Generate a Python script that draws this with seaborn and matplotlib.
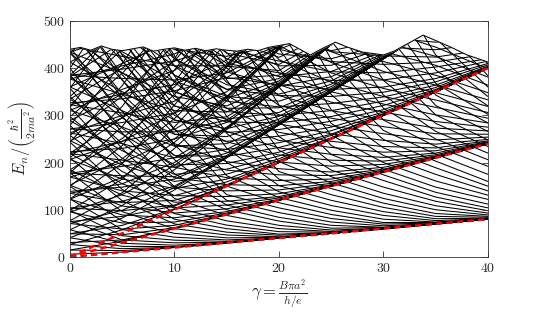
import numpy as np
import pandas as pd
import matplotlib
matplotlib.use('Agg')
import matplotlib.pyplot as plt
import seaborn as sns

nan = np.nan
gamma = [0, 5, 10, 15, 20, 25, 30, 35, 40]

# levels, one row per state, values at the gamma grid
# radial band 0, l <= 0 (rows |l| = 0, 1, 2, ...)
band0_down = [
    [5.8, 10.4, 20, 30, 40, 50, 60, 70, 80],
    [14.7, 13.5, 20.1, 30, 40, 50, 60, 70, 80],
    [26.4, 17.5, 20.6, 30, 40, 50, 60, 70, 80],
    [40.7, 22.5, 22, 30, 40, 50, 60, 70, 80],
    [57.6, 29, 25, 30.3, 40, 50, 60, 70, 80],
    [76.9, 36, 30, 31, 40, 50, 60, 70, 80],
    [98.7, 45, 35.6, 33, 40, 50, 60, 70, 80],
    [122.9, 58, 42, 36, 40.4, 50, 60, 70, 80],
    [149.8, 76, 50, 40.5, 41.6, 50, 60, 70, 80],
    [178.3, 96, 60, 46.5, 42.8, 50.2, 60, 70, 80],
    [209.7, 119, 70, 52.5, 46, 50.5, 60, 70, 80],
    [243.1, 143, 80, 60, 48.4, 51.5, 60.2, 70, 80],
    [278.9, 169.5, 92, 67.5, 53.6, 52.5, 60.5, 70, 80],
    [316.9, 198, 106, 76.5, 60, 54, 60.6, 70, 80],
    [357.3, 229.5, 124, 88, 67, 57, 61, 70, 80],
    [399.8, 262.7, 148.5, 100, 76, 61, 62.4, 70, 80],
    [444.7, 298, 176.5, 110, 84, 67, 63, 70.5, 80],
    [491.6, 335.6, 206, 120, 94, 74, 66, 71, 80],
    [541, 375, 237.8, 132, 104, 81.5, 69.6, 72, 80],
    [594, 417, 271, 150, 115, 90, 73, 73, 80.5],
    [650, 461, 306.6, 172, 126, 99, 80, 74, 81],
    [702, 508, 344, 200, 138, 109, 88, 77, 81],
    [760, 557, 383.5, 230, 151, 120, 96, 81, 82],
    [nan, 610, 426, 262, 165, 132, 105, 86, 84],
    [nan, 665, 468.5, 298, 181, 145, 114, 92, 86],
    [nan, nan, 514, 336, 202, 157, 124, 100, 89],
    [nan, nan, 560, 375, 226, 170, 135, 108.5, 93],
    [nan, nan, 610, 415, 255, 184, 148, 118, 98],
    [nan, nan, nan, 458, 287, 200, 162, 127, 104],
    [nan, nan, nan, 503, 322, 217, 174, 137, 112],
    [nan, nan, nan, 550, 360, 236, 186, 148, 122],
    [nan, nan, nan, 600, 400, 258, 200, 161, 131],
    [nan, nan, nan, 650, 442, 283, 215, 175, 140],
    [nan, nan, nan, 700, 485, 312, 231, 189, 150],
    [nan, nan, nan, nan, 530, 344, 249, 203, 160],
    [nan, nan, nan, nan, 575, 380, 268, 218, 175],
    [nan, nan, nan, nan, 620, 418, 290, 234, 192],
    [nan, nan, nan, nan, 665, 458, 315, 250, 206],
    [nan, nan, nan, nan, 710, 500, 343, 266, 220],
    [nan, nan, nan, nan, 755, 545, 374, 283, 234],
    [nan, nan, nan, nan, nan, 590, 408, 301, 248],
    [nan, nan, nan, nan, nan, 635, 444, 321, 266],
    [nan, nan, nan, nan, nan, 680, 482, 343, 284],
    [nan, nan, nan, nan, nan, nan, 522, 368, 302],
    [nan, nan, nan, nan, nan, nan, 565, 396, 320],
    [nan, nan, nan, nan, nan, nan, 610, 428, 340],
    [nan, nan, nan, nan, nan, nan, 655, 463, 360],
    [nan, nan, nan, nan, nan, nan, 700, 500, 384],
    [nan, nan, nan, nan, nan, nan, nan, 540, 409],
    [nan, nan, nan, nan, nan, nan, nan, 580, 440],
    [nan, nan, nan, nan, nan, nan, nan, 620, 470],
]

# radial band 1, l <= 0
band1_down = [
    [30.5, 36, 60, 90, 120, 150, 180, 210, 240],
    [49.2, 47, 62, 90, 120, 150, 180, 210, 240],
    [70.9, 59, 67, 91, 120, 150, 180, 210, 240],
    [95.3, 72, 74, 93, 120, 150, 180, 210, 240],
    [122.4, 89, 83, 96, 121, 150, 180, 210, 240],
    [152.2, 108, 93, 102, 122, 150, 180, 210, 240],
    [184.7, 131, 104, 110, 125, 150, 180, 210, 240],
    [219.6, 155, 116, 118, 128, 152, 180, 210, 240],
    [257.3, 181, 130, 128, 134, 153, 180, 210, 240],
    [297.2, 209, 148, 140, 142, 156, 181, 210, 240],
    [339.7, 240, 168, 153, 151, 160, 182, 210, 240],
    [384.9, 273, 190, 168, 162, 165, 184, 211, 240],
    [432.2, 308, 215, 184, 174, 172.5, 186, 211.5, 240],
    [482, 345, 240, 202, 187, 180, 190, 212.5, 241],
    [535, 386, 270, 222, 201, 192.5, 196, 214, 241],
    [590, 428, 300, 244, 216, 205, 203, 216.5, 242],
    [647, 472, 335, 266, 231, 217.5, 211, 220, 243],
    [706, 517, 370, 290, 247, 232, 222, 225, 244],
    [nan, 560, 405, 315, 264, 245, 234, 231, 246],
    [nan, 605, 445, 342, 282, 261, 247, 239, 249],
    [nan, nan, 485, 370, 301, 277.5, 261, 248, 254],
    [nan, nan, 525, 400, 321, 294, 276, 261, 260],
    [nan, nan, 565, 432, 342, 310, 291, 273, 267],
    [nan, nan, 610, 466, 365, 328, 307, 287, 275],
    [nan, nan, nan, 502, 390, 350, 324, 301, 284],
    [nan, nan, nan, 540, 418, 370, 340, 317, 294],
    [nan, nan, nan, 580, 448, 390, 357, 332.5, 306],
    [nan, nan, nan, nan, 480, 412, 375, 348, 319],
    [nan, nan, nan, nan, 515, 435, 393, 364, 333],
    [nan, nan, nan, nan, 550, 460, 414, 385, 348],
    [nan, nan, nan, nan, 590, 490, 435, 406, 364],
    [nan, nan, nan, nan, nan, 520, 455, 425, 381],
    [nan, nan, nan, nan, nan, 555, 480, 444.5, 399],
    [nan, nan, nan, nan, nan, 590, 505, 463, 418],
    [nan, nan, nan, nan, nan, nan, 530, 483, 438],
    [nan, nan, nan, nan, nan, nan, 560, 505, 460],
]

# radial band 2, l <= 0
band2_down = [
    [74.9, 86, 108, 151, 200, 250, 300, 350, 400],
    [103.5, 98, 110, 151, 200, 250, 300, 350, 400],
    [135, 115, 120, 153, 200, 250, 300, 350, 400],
    [169.4, 140, 130, 159, 201, 250, 300, 350, 400],
    [206.5, 165, 145, 165, 204, 250, 300, 350, 400],
    [246.3, 195, 160, 175.5, 208, 252, 300, 350, 400],
    [289, 225, 175, 186, 214, 252.5, 300, 350, 400],
    [334.5, 260, 195, 198, 222, 257.5, 302, 350, 400],
    [382.2, 295, 215, 213, 232, 260, 302, 350, 400],
    [433.1, 335, 235, 228, 242, 267.5, 303.6, 350, 400],
    [482, 375, 260, 245, 256, 275, 307, 351, 400],
    [535, 415, 290, 264, 270, 287.5, 312, 353, 401],
    [590, 460, 320, 286, 284, 297.5, 321, 355, 402],
    [nan, 505, 350, 308, 300, 310, 330, 359, 403],
    [nan, 550, 385, 330, 318, 325, 339, 364, 404],
    [nan, 600, 420, 355, 342, 340, 349, 371, 407],
    [nan, 645, 455, 380, 365, 355, 360, 378, 410],
    [nan, 690, 490, 410, 390, 374, 375, 390, 415],
    [nan, nan, 530, 440, 415, 392.5, 390, 402.5, 420],
    [nan, nan, nan, 470, 440, 414, 408, 413, 430],
    [nan, nan, nan, 500, 470, 435, 426, 423.5, 440],
    [nan, nan, nan, 535, 500, 457, 445, 439, 454],
    [nan, nan, nan, nan, 530, 480, 465, 455, 468],
    [nan, nan, nan, nan, 565, 505, 485, 472, 484],
]

# radial band 3, l <= 0
band3_down = [
    [139, 148, 165, 212, 280, 350, 420, 490, 560],
    [177.5, 172, 170, 215, 281, 350, 420, 490, 560],
    [219, 205, 190, 220, 282, 350, 420, 490, 560],
    [263, 240, 210, 228, 284, 350, 420, 490, 560],
    [310.5, 275, 235, 240, 287, 351, 420, 490, 560],
    [360.2, 310, 260, 255, 292, 352, 420, 490, 560],
    [412.9, 350, 290, 272, 298, 354, 421, 490, 560],
    [468, 390, 320, 292, 306, 357, 422, 490, 560],
    [527, 430, 350, 315, 316, 361, 423, 490, 560],
    [nan, 475, 385, 340, 330, 366, 425, 491, 560],
    [nan, 520, 420, 365, 345, 373, 428, 492, 560],
    [nan, 565, 455, 392, 362, 382, 431, 494, 560],
    [nan, nan, 490, 420, 382, 393, 436, 496, 560],
    [nan, nan, 530, 450, 405, 406, 442, 500, 560],
    [nan, nan, nan, 480, 430, 420, 450, 505, 562],
    [nan, nan, nan, 510, 455, 437, 460, 510, 565],
    [nan, nan, nan, 545, 480, 455, 470, 515, 568],
    [nan, nan, nan, nan, 505, 475, 482, 522, 572],
]

# radial band 4, l <= 0
band4_down = [
    [222.9, 230, 250, 285, 362, 450, 540, nan, nan],
    [271.3, 265, 265, 290, 363, 450, 540, nan, nan],
    [322.6, 305, 285, 297, 364, 451, 540, nan, nan],
    [376.8, 345, 310, 307, 366, 451, 540, nan, nan],
    [433.9, 390, 340, 320, 369, 452, 540, nan, nan],
    [494, 435, 372, 336, 373, 453, 541, nan, nan],
    [555, 480, 405, 355, 378, 455, 542, nan, nan],
    [nan, 525, 440, 378, 385, 458, 543, nan, nan],
    [nan, 570, 475, 404, 395, 462, 545, nan, nan],
    [nan, nan, 510, 432, 408, 467, 547, nan, nan],
    [nan, nan, 550, 462, 423, 474, 550, nan, nan],
    [nan, nan, nan, 495, 440, 482, 553, nan, nan],
]

# radial band 5, l <= 0
band5_down = [
    [326.5, 335, 352, 380, 445, 550, nan, nan, nan],
    [384.8, 378, 375, 390, 446, 550, nan, nan, nan],
    [446, 425, 405, 405, 448, 551, nan, nan, nan],
    [510, 470, 440, 425, 450, 552, nan, nan, nan],
    [575, 520, 475, 450, 455, 553, nan, nan, nan],
    [nan, 570, 510, 478, 462, 555, nan, nan, nan],
]

# l > 0 partners (rows l = 1, 2, ...)
band0_up = [
    [14.7, 33.5, 60, 90, 120, 150, 180, 210, 240],
    [26.4, 57.5, 100.6, 150, 200, 250, 300, 350, 400],
    [40.7, 82.5, 142, 210, 280, 350, 420, 490, 560],
    [57.6, 109, 185, 270, 360, 450, 540, nan, nan],
    [76.9, 136, 230, 331, 440, 550, nan, nan, nan],
    [98.7, 165, 275.6, 393, 520, nan, nan, nan, nan],
    [122.9, 198, 322, 456, 600, nan, nan, nan, nan],
    [149.8, 236, 370, 520, nan, nan, nan, nan, nan],
    [178.3, 276, 420, 586, nan, nan, nan, nan, nan],
    [209.7, 319, 470, 650, nan, nan, nan, nan, nan],
    [243.1, 363, 520, nan, nan, nan, nan, nan, nan],
    [278.9, 409.5, 572, nan, nan, nan, nan, nan, nan],
    [316.9, 458, 626, nan, nan, nan, nan, nan, nan],
    [357.3, 509.5, nan, nan, nan, nan, nan, nan, nan],
    [399.8, 563, nan, nan, nan, nan, nan, nan, nan],
    [444.7, 618, nan, nan, nan, nan, nan, nan, nan],
]

band1_up = [
    [49.2, 67, 102, 150, 200, 250, 300, 350, 400],
    [70.9, 99, 147, 211, 280, 350, 420, 490, 560],
    [95.3, 132, 194, 273, 360, 450, 540, nan, nan],
    [122.4, 169, 243, 336, 441, 550, nan, nan, nan],
    [152.2, 208, 293, 402, 522, nan, nan, nan, nan],
    [184.7, 251, 344, 470, nan, nan, nan, nan, nan],
    [219.6, 295, 396, 538, nan, nan, nan, nan, nan],
    [257.3, 341, 450, nan, nan, nan, nan, nan, nan],
    [297.2, 389, 508, nan, nan, nan, nan, nan, nan],
    [339.7, 440, 568, nan, nan, nan, nan, nan, nan],
    [384.9, 493, nan, nan, nan, nan, nan, nan, nan],
    [432.2, 548, nan, nan, nan, nan, nan, nan, nan],
]

band2_up = [
    [103.5, 118, 150, 211, 280, 350, 420, 490, 560],
    [135, 155, 200, 273, 360, 450, 540, nan, nan],
    [169.4, 200, 250, 339, 441, 550, nan, nan, nan],
    [206.5, 245, 305, 405, 524, nan, nan, nan, nan],
    [246.3, 295, 360, 475, nan, nan, nan, nan, nan],
    [289, 345, 415, 546, nan, nan, nan, nan, nan],
    [334.5, 400, 475, nan, nan, nan, nan, nan, nan],
    [382.2, 455, 535, nan, nan, nan, nan, nan, nan],
    [433.1, 515, nan, nan, nan, nan, nan, nan, nan],
]

band3_up = [
    [177.5, 192, 210, 275, 361, 450, 540, nan, nan],
    [219, 245, 270, 340, 442, 550, nan, nan, nan],
    [263, 300, 330, 408, 524, nan, nan, nan, nan],
    [310.5, 355, 395, 480, nan, nan, nan, nan, nan],
    [360.2, 410, 460, nan, nan, nan, nan, nan, nan],
    [412.9, 470, 530, nan, nan, nan, nan, nan, nan],
]

band4_up = [
    [271.3, 285, 305, 350, 443, 550, nan, nan, nan],
    [322.6, 345, 365, 417, 524, nan, nan, nan, nan],
    [376.8, 405, 430, 487, nan, nan, nan, nan, nan],
    [433.9, 470, 500, nan, nan, nan, nan, nan, nan],
]

band5_up = [
    [384.8, 398, 415, 450, 526, nan, nan, nan, nan],
    [446, 465, 485, nan, nan, nan, nan, nan, nan],
]

# highest computed level (upper edge of the bundle)
top_gamma = [0, 1, 2, 3, 4, 5, 6, 7, 8, 9, 10, 11, 12, 13, 14, 15, 16, 17,
             18, 19, 20, 21, 22, 23, 24, 25.4, 26.5, 28, 30, 31, 33.8, 36.4, 38, 40]
top_energy = [440, 444, 438, 447, 440, 437, 441, 445, 436, 440, 443, 438, 442,
              437, 441, 438, 436, 440, 437, 444, 448, 452, 440, 428, 440, 455,
              445, 434, 428, 436, 470, 445, 428, 413]

# bulk Landau levels (dashed)
landau_gamma = [0, 40]
landau_0 = [0, 80]
landau_1 = [0, 240]
landau_2 = [0, 400]

tables = {'d0': band0_down, 'd1': band1_down, 'd2': band2_down, 'd3': band3_down,
          'd4': band4_down, 'd5': band5_down, 'u0': band0_up, 'u1': band1_up,
          'u2': band2_up, 'u3': band3_up, 'u4': band4_up, 'u5': band5_up}
rows = []
for name, table in tables.items():
    for i, vals in enumerate(table):
        for g, e in zip(gamma, vals):
            rows.append((name + str(i), g, e))
levels = pd.DataFrame(rows, columns=['state', 'gamma', 'E']).dropna()

sns.set_style('ticks')
plt.rcParams['font.family'] = 'serif'
plt.rcParams['font.serif'] = ['cmr10', 'DejaVu Serif']
plt.rcParams['mathtext.fontset'] = 'cm'
plt.rcParams['axes.formatter.use_mathtext'] = True

fig = plt.figure(figsize=(5.4, 3.2), dpi=100)
ax = fig.add_axes([0.1296, 0.197, 0.774, 0.7375])

sns.lineplot(data=levels, x='gamma', y='E', units='state', estimator=None,
             color='black', lw=0.75, ax=ax)
ax.fill_between(top_gamma, top_energy, 520, color='white', lw=0, zorder=2.2)
sns.lineplot(x=top_gamma, y=top_energy, color='black', lw=0.75, ax=ax, zorder=2.3)
for ll in [landau_0, landau_1, landau_2]:
    sns.lineplot(x=landau_gamma, y=ll, color='red', lw=1.8,
                 linestyle=(0, (2.6, 1.6)), ax=ax, zorder=3)

ax.set_xlim(0, 40)
ax.set_ylim(0, 500)
ax.set_xticks([0, 10, 20, 30, 40])
ax.set_yticks([0, 100, 200, 300, 400, 500])
ax.set_axisbelow(False)
ax.tick_params(direction='in', top=True, right=True, length=4, width=0.6,
               labelsize=10, color='#333333')
for sp in ax.spines.values():
    sp.set_linewidth(0.6)
    sp.set_color('#333333')
    sp.set_zorder(5)
ax.set_xlabel(r'$\gamma = \frac{B\pi a^2}{h/e}$', fontsize=12, labelpad=2)
ax.set_ylabel(r'$E_n/\left(\frac{\hbar^2}{2ma^2}\right)$', fontsize=12, labelpad=4)

fig.savefig('out.png', dpi=100)
